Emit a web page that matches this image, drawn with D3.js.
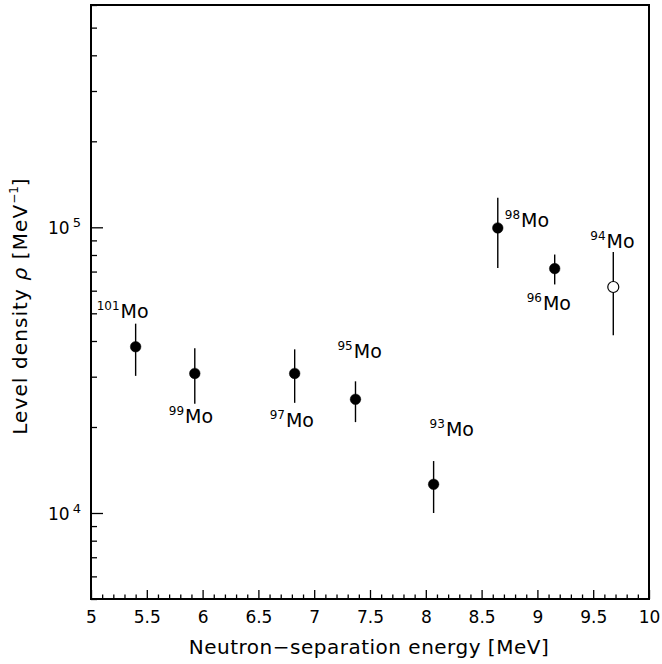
<!DOCTYPE html>
<html>
<head>
<meta charset="utf-8">
<script src="https://cdn.jsdelivr.net/npm/d3@7"></script>
<style>
  html, body { margin: 0; padding: 0; background: #fff; }
  svg { display: block; font-family: "DejaVu Sans", "Liberation Sans", sans-serif; }
</style>
</head>
<body>
<svg id="chart" width="662" height="664"></svg>
<script>
// ---- data ----
const isotopes   = ["101", "99", "97", "95", "93", "98", "96", "94"];
const energies   = [5.40, 5.93, 6.825, 7.37, 8.07, 8.645, 9.155, 9.68];
const densities  = [38200, 30800, 30800, 25000, 12600, 99500, 71700, 61800];
const errLow     = [30200, 24100, 24300, 20800, 10000, 72100, 63100, 41900];
const errHigh    = [46000, 37700, 37400, 28900, 15200, 127000, 80300, 82000];
const filled     = [true, true, true, true, true, true, true, false];
const xTickVals  = [5, 5.5, 6, 6.5, 7, 7.5, 8, 8.5, 9, 9.5, 10];
const xTickLabels = ["5", "5.5", "6", "6.5", "7", "7.5", "8", "8.5", "9", "9.5", "10"];
const yMajorVals = [1e4, 1e5];
const yMajorExp  = ["4", "5"];

// label placement (pixels relative to point: start x, baseline y)
const labelOffsets = [[-39, -29], [-26, 50], [-25, 54], [-18, -41], [-4, -48], [7, -1], [-28, 41], [-23, -39]];

// ---- layout ----
const mLeft = 91, mRight = 649, mTop = 5, mBottom = 599;
const svg = d3.select("#chart");

const x = d3.scaleLinear().domain([5, 10]).range([mLeft, mRight]);
const y = d3.scaleLog().domain([5000, 6e5]).range([mBottom, mTop]);

// minor y ticks
const yMinor = [];
[1e3, 1e4, 1e5].forEach(d => { for (let k = 2; k <= 9; k++) { const v = k * d; if (v >= 5000 && v <= 6e5) yMinor.push(v); } });

svg.append("g").attr("transform", `translate(${mLeft},0)`)
  .call(d3.axisLeft(y).tickValues(yMinor).tickSize(-6).tickFormat(""))
  .call(g => g.select(".domain").remove())
  .selectAll("line").attr("stroke", "#000").attr("stroke-width", 1.3);

svg.append("g").attr("transform", `translate(${mLeft},0)`)
  .call(d3.axisLeft(y).tickValues(yMajorVals).tickSize(-12).tickFormat(""))
  .call(g => g.select(".domain").remove())
  .selectAll("line").attr("stroke", "#000").attr("stroke-width", 1.3);

// x ticks
const xMinor = d3.range(50, 101).map(d => d / 10).filter(d => Math.abs(d * 2 - Math.round(d * 2)) > 1e-6);
svg.append("g").attr("transform", `translate(0,${mBottom})`)
  .call(d3.axisBottom(x).tickValues(xMinor).tickSize(-4.5).tickFormat(""))
  .call(g => g.select(".domain").remove())
  .selectAll("line").attr("stroke", "#000").attr("stroke-width", 1.3);
const xMajAxis = svg.append("g").attr("transform", `translate(0,${mBottom})`)
  .call(d3.axisBottom(x).tickValues(xTickVals).tickSize(-9).tickFormat((d, i) => xTickLabels[i]))
  .call(g => g.select(".domain").remove());
xMajAxis.selectAll("line").attr("stroke", "#000").attr("stroke-width", 1.3);
xMajAxis.selectAll("text").attr("font-size", 17).attr("fill", "#000")
  .attr("font-family", "DejaVu Sans, sans-serif").attr("dy", 0).attr("y", 24);

// y tick labels with superscripts
yMajorVals.forEach((v, i) => {
  const t = svg.append("text").attr("x", 48).attr("y", y(v) + 7)
    .attr("font-size", 17).attr("fill", "#000");
  t.append("tspan").text("10");
  t.append("tspan").attr("dy", -7).attr("dx", 3).attr("font-size", 13).text(yMajorExp[i]);
});

// frame
svg.append("rect").attr("x", mLeft).attr("y", mTop).attr("width", mRight - mLeft).attr("height", mBottom - mTop)
  .attr("fill", "none").attr("stroke", "#000").attr("stroke-width", 2);

// error bars
svg.append("g").selectAll("line").data(energies).join("line")
  .attr("x1", (d) => x(d)).attr("x2", (d) => x(d))
  .attr("y1", (d, i) => y(errHigh[i])).attr("y2", (d, i) => y(errLow[i]))
  .attr("stroke", "#000").attr("stroke-width", 1.4);

// points
svg.append("g").selectAll("circle").data(energies).join("circle")
  .attr("cx", d => x(d)).attr("cy", (d, i) => y(densities[i]))
  .attr("r", (d, i) => filled[i] ? 5.3 : 5.5)
  .attr("fill", (d, i) => filled[i] ? "#000" : "#fff")
  .attr("stroke", "#000").attr("stroke-width", (d, i) => filled[i] ? 0.5 : 1.2);

// isotope labels
isotopes.forEach((iso, i) => {
  const px = x(energies[i]) + labelOffsets[i][0];
  const py = y(densities[i]) + labelOffsets[i][1];
  const t = svg.append("text").attr("x", px).attr("y", py).attr("fill", "#000");
  t.append("tspan").attr("font-size", 12).attr("dy", -8).text(iso);
  t.append("tspan").attr("font-size", 19).attr("dy", 8).attr("dx", 1).text("Mo");
});

// axis titles
svg.append("text").attr("x", (mLeft + mRight) / 2 - 1).attr("y", 654)
  .attr("text-anchor", "middle").attr("font-size", 20).attr("letter-spacing", 0.5).attr("fill", "#000")
  .text("Neutron\u2212separation energy [MeV]");

const yl = svg.append("text").attr("transform", "translate(27,306) rotate(-90)")
  .attr("text-anchor", "middle").attr("font-size", 20).attr("letter-spacing", 1.1).attr("fill", "#000");
yl.append("tspan").text("Level density ");
yl.append("tspan").attr("font-style", "italic").text("\u03c1");
yl.append("tspan").text(" [MeV");
yl.append("tspan").attr("font-size", 12).attr("dy", -9).attr("letter-spacing", 0).text("\u22121");
yl.append("tspan").attr("dy", 9).text("]");
</script>
</body>
</html>
